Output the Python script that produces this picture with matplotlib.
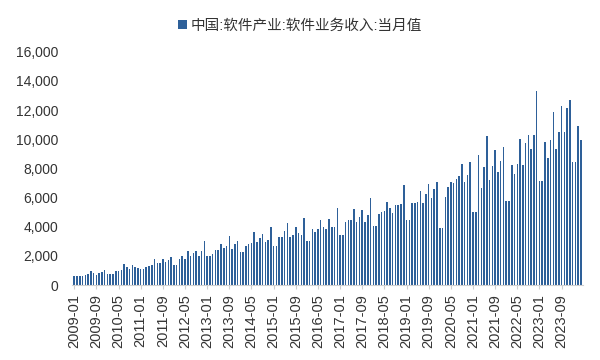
import matplotlib
matplotlib.use("Agg")
import matplotlib.pyplot as plt
import numpy as np
import pandas as pd

plt.rcParams['font.family'] = ['Liberation Sans', 'Noto Sans CJK SC', 'DejaVu Sans']

serie_nome = "中国:软件产业:软件业务收入:当月值"

# valores mensais (亿元), 2009-01 .. 2024-04
v2009 = [640, 640, 640, 600, 710, 760, 970, 850, 710, 800, 880, 1030]
v2010 = [780, 780, 760, 970, 1000, 1030, 1420, 1220, 1080, 1360, 1220, 1200]
v2011 = [1080, 1080, 1260, 1330, 1380, 1790, 1540, 1540, 1770, 1620, 1700, 1910]
v2012 = [1400, 1400, 1790, 2000, 1820, 2320, 2000, 2180, 2350, 1980, 2320, 3030]
v2013 = [2000, 2000, 2140, 2390, 2400, 2810, 2580, 2670, 3380, 2460, 2830, 3030]
v2014 = [2250, 2250, 2710, 2830, 2920, 3610, 2990, 3220, 3520, 2970, 3100, 3980]
v2015 = [2710, 2710, 3290, 3330, 3720, 4250, 3330, 3450, 3980, 3560, 3450, 4570]
v2016 = [3030, 3030, 3860, 3610, 3880, 4480, 4020, 3880, 4530, 4000, 3980, 5290]
v2017 = [3430, 3430, 4350, 4480, 4480, 5220, 4300, 4670, 5170, 4320, 4800, 5980]
v2018 = [4070, 4070, 4900, 5030, 5100, 5700, 5260, 4940, 5490, 5470, 5590, 6900]
v2019 = [4480, 4480, 5630, 5660, 5700, 6480, 5630, 6250, 6960, 5980, 6620, 7080]
v2020 = [3910, 3910, 6050, 6710, 7080, 7010, 7290, 7470, 8320, 7080, 7520, 8440]
v2021 = [4990, 4990, 8920, 6670, 8090, 10230, 7200, 8160, 9260, 7750, 8510, 9490]
v2022 = [5790, 5790, 8210, 7590, 8340, 10000, 8230, 9720, 10280, 9360, 10320, 13330]
v2023 = [7130, 7130, 9840, 8690, 9950, 11840, 9310, 10510, 12300, 10510, 12180, 12710]
v2024 = [8460, 8460, 10920, 9930]

valores = (v2009 + v2010 + v2011 + v2012 + v2013 + v2014 + v2015 + v2016
           + v2017 + v2018 + v2019 + v2020 + v2021 + v2022 + v2023 + v2024)
meses = pd.period_range("2009-01", periods=len(valores), freq="M")
rotulos = [m.strftime("%Y-%m") for m in meses]

fig = plt.figure(figsize=(6, 3.6), dpi=100)
ax = fig.add_axes([0.12, 0.208, 0.852, 0.648])

x = np.arange(len(valores))
barras = ax.bar(x, valores, width=0.55, color="#2E6099", label=serie_nome)

ax.set_ylim(0, 16000)
ax.set_yticks(np.arange(0, 16001, 2000))
ax.set_yticklabels([f"{v:,}" for v in range(0, 16001, 2000)])
ax.set_xlim(-0.8, len(valores) - 0.2)

pos = x[::8]
ax.set_xticks(pos)
ax.set_xticklabels([rotulos[i] for i in pos], rotation=90)

for lado in ["top", "right", "left"]:
    ax.spines[lado].set_visible(False)
ax.spines["bottom"].set_color("#d0d0d0")
ax.tick_params(axis="y", length=0, labelsize=10, colors="#333333", pad=10)
ax.tick_params(axis="x", length=3, color="#d0d0d0", labelsize=10.5, colors="#333333")

fig.legend(handles=[barras], loc="upper center", bbox_to_anchor=(0.5, 0.985),
           frameon=False, fontsize=10.5, handlelength=0.6, handleheight=0.6,
           handletextpad=0.3, labelcolor="#333333")

plt.savefig("out.png", dpi=100)
plt.close()
